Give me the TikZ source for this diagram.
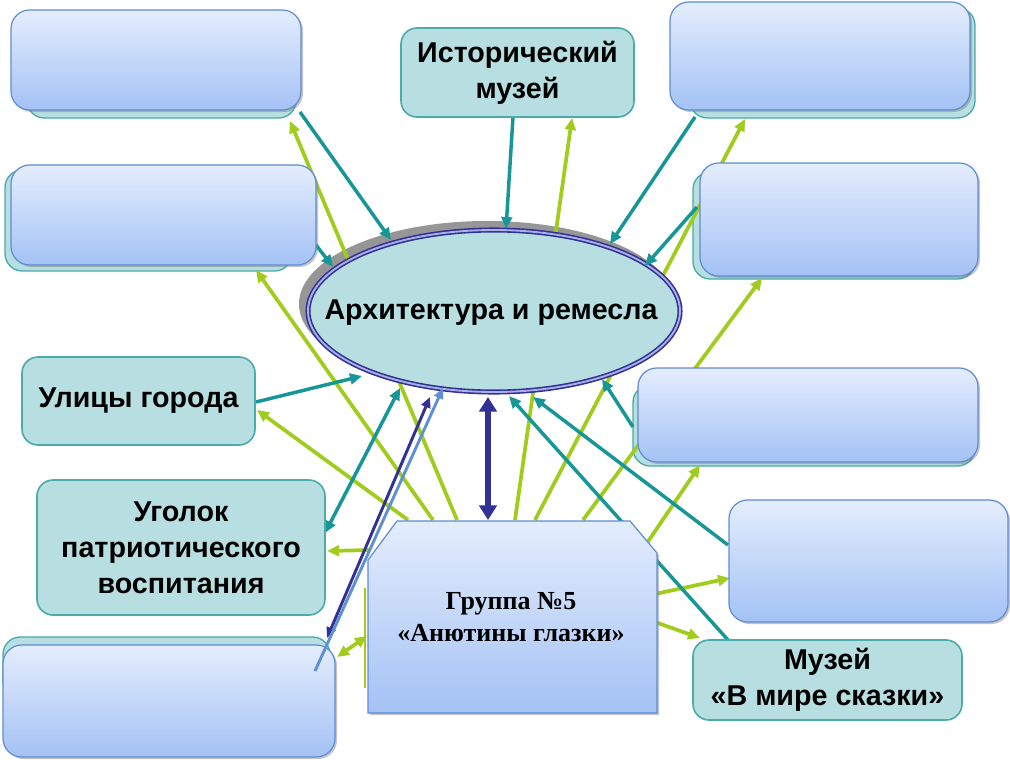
\documentclass[tikz,border=0pt]{standalone}
\usepackage{fontspec}
\setmainfont{Liberation Serif}
\newfontfamily\arialf{Liberation Sans}
\usetikzlibrary{shapes.geometric,arrows.meta,shadows}

\definecolor{tealline}{RGB}{22,150,150}
\definecolor{limeline}{RGB}{160,204,30}
\definecolor{tealfill}{RGB}{183,222,224}
\definecolor{tealdraw}{RGB}{75,170,170}
\definecolor{bluetop}{RGB}{228,237,253}
\definecolor{bluebot}{RGB}{164,194,245}
\definecolor{bluedraw}{RGB}{95,140,210}
\definecolor{navyline}{RGB}{50,50,150}
\definecolor{steelline}{RGB}{95,145,210}
\definecolor{shadowgray}{RGB}{150,150,150}
\definecolor{ellmid}{RGB}{170,175,230}

\tikzset{
  bluebox/.style={draw=bluedraw, line width=0.9pt, rounded corners=14pt, top color=bluetop, bottom color=bluebot,
    inner sep=0pt, outer sep=0pt,
    drop shadow={shadow xshift=1.5pt, shadow yshift=-1.5pt, opacity=0.45}},
  backbox/.style={draw=tealdraw, line width=1pt, rounded corners=13pt, fill=tealfill, inner sep=0pt, outer sep=0pt},
  tealbox/.style={draw=tealdraw, line width=1.2pt, rounded corners=12pt, fill=tealfill, inner sep=0pt, outer sep=0pt,
    font=\arialf\bfseries\fontsize{21.5}{27}\selectfont, align=center, text=black},
  tarrow/.style={draw=tealline, line width=2.6pt, -{Triangle[length=9pt,width=8pt]}},
  tdarrow/.style={draw=tealline, line width=2.6pt, {Triangle[length=9pt,width=8pt]}-{Triangle[length=9pt,width=8pt]}},
  larrow/.style={draw=limeline, line width=2.8pt, -{Triangle[length=9pt,width=8pt]}},
  ldarrow/.style={draw=limeline, line width=2.8pt, {Triangle[length=9pt,width=8pt]}-{Triangle[length=9pt,width=8pt]}},
  groupbox/.style={draw=bluedraw, line width=0.9pt, top color=bluetop, bottom color=bluebot,
    drop shadow={shadow xshift=1.5pt, shadow yshift=-1.5pt, opacity=0.45}},
}

\begin{document}
\begin{tikzpicture}[x=0.75pt,y=-0.75pt]
\useasboundingbox[fill=white] (0,0) rectangle (1010,760);

% back teal boxes (partly hidden)
\node[backbox, minimum width=201.75pt, minimum height=76.5pt] (TLt) at (161.5,67) {};
\node[backbox, minimum width=215.25pt, minimum height=75.75pt] (B2t) at (148.5,220.5) {};
\node[backbox, minimum width=213.75pt, minimum height=82.5pt] (TRt) at (832.5,63) {};
\node[backbox, minimum width=211.5pt, minimum height=80.25pt] (B5t) at (834,225.5) {};
\node[backbox, minimum width=256.5pt, minimum height=60.75pt] (RMt) at (804,425.5) {};
\node[backbox, minimum width=245.25pt, minimum height=46.5pt] (BLt) at (166.5,668) {};

% ellipse shadow
\node[ellipse, fill=shadowgray, minimum width=282pt, minimum height=124.5pt, inner sep=0pt] (Esh) at (487,304) {};

% connector end points
\coordinate (l1a) at (457,520); \coordinate (l1b) at (290,121);
\coordinate (l2a) at (433,520); \coordinate (l2b) at (256,270);
\coordinate (l3a) at (515,520); \coordinate (l3b) at (572,118);
\coordinate (l4a) at (535,520); \coordinate (l4b) at (745,119);
\coordinate (l5a) at (583,520); \coordinate (l5b) at (762,278);
\coordinate (l6a) at (647,543); \coordinate (l6b) at (700,465);
\coordinate (l7a) at (655,594); \coordinate (l7b) at (730,578);
\coordinate (l8a) at (655,622); \coordinate (l8b) at (700,638);
\coordinate (l9a) at (408,520); \coordinate (l9b) at (257,410);
\coordinate (l10a) at (370,550); \coordinate (l10b) at (327,551);
\coordinate (l11a) at (337,657); \coordinate (l11b) at (367,636);
\coordinate (l12a) at (365,588); \coordinate (l12b) at (365,688);

% lime connectors
\draw[larrow] (l1a) -- (l1b);
\draw[larrow] (l2a) -- (l2b);
\draw[larrow] (l3a) -- (l3b);
\draw[larrow] (l4a) -- (l4b);
\draw[larrow] (l5a) -- (l5b);
\draw[larrow] (l6a) -- (l6b);
\draw[larrow] (l7a) -- (l7b);
\draw[larrow] (l8a) -- (l8b);
\draw[larrow] (l9a) -- (l9b);
\draw[larrow] (l10a) -- (l10b);
\draw[ldarrow] (l11a) -- (l11b);
\draw[draw=limeline, line width=2pt] (l12a) -- (l12b);

% central ellipse
\node[ellipse, fill=tealfill, draw=navyline, line width=1.2pt, double=ellmid, double distance=1.4pt,
  minimum width=279pt, minimum height=121.5pt, inner sep=0pt] (E) at (494,311) {};
\node[font=\arialf\bfseries\fontsize{21.5}{24}\selectfont, inner sep=0pt] (Et) at (491,313) {Архитектура и ремесла};

% teal connectors
\coordinate (t1a) at (300,112); \coordinate (t1b) at (391,240);
\coordinate (t2a) at (316,245); \coordinate (t2b) at (333,267);
\coordinate (t3a) at (513,117); \coordinate (t3b) at (506,229);
\coordinate (t4a) at (695,117); \coordinate (t4b) at (610,244);
\coordinate (t5a) at (697,207); \coordinate (t5b) at (645,266);
\coordinate (t6a) at (256,402); \coordinate (t6b) at (362,376);
\coordinate (t7a) at (325,533); \coordinate (t7b) at (400,388);
\coordinate (t8a) at (633,427); \coordinate (t8b) at (602,379);
\coordinate (t9a) at (728,545); \coordinate (t9b) at (533,397);
\coordinate (t10a) at (728,640); \coordinate (t10b) at (509,396);
\draw[tarrow] (t1a) -- (t1b);
\draw[tarrow] (t2a) -- (t2b);
\draw[tarrow] (t3a) -- (t3b);
\draw[tarrow] (t4a) -- (t4b);
\draw[tarrow] (t5a) -- (t5b);
\draw[tarrow] (t6a) -- (t6b);
\draw[tdarrow] (t7a) -- (t7b);
\draw[tarrow] (t8a) -- (t8b);
\draw[tarrow] (t9a) -- (t9b);
\draw[tarrow] (t10a) -- (t10b);

% front blue boxes
\node[bluebox, minimum width=217.5pt, minimum height=75pt] (TLb) at (156,60) {};
\node[bluebox, minimum width=228.75pt, minimum height=75pt] (B2b) at (163.5,215) {};
\node[bluebox, minimum width=225pt, minimum height=81pt] (TRb) at (820,56) {};
\node[bluebox, minimum width=208.5pt, minimum height=84.75pt] (B5b) at (839,219.5) {};
\node[bluebox, minimum width=255pt, minimum height=70.5pt] (RMb) at (808,415) {};
\node[bluebox, minimum width=209.25pt, minimum height=91.5pt] (RLb) at (868.5,561) {};
\node[bluebox, minimum width=249pt, minimum height=84pt] (BLb) at (169,701) {};

% teal text boxes
\node[tealbox, minimum width=174.75pt, minimum height=66.75pt] (IM) at (517.5,72.5) {Исторический\\музей};
\node[tealbox, minimum width=174.75pt, minimum height=66pt] (UG) at (138.5,401) {Улицы города};
\node[tealbox, minimum width=216pt, minimum height=101.25pt] (UP) at (181,547.5) {Уголок\\патриотического\\воспитания};
\node[tealbox, minimum width=201.75pt, minimum height=60pt] (MZ) at (827.5,680) {Музей\\«В мире сказки»};

% group box
\path[groupbox] (368,560) -- (397,521) -- (630,521) -- (657,553) -- (657,713) -- (368,713) -- cycle;
\node[font=\bfseries\fontsize{19.5}{23.5}\selectfont, align=center, inner sep=0pt] (G) at (511,617) {Группа №5\\«Анютины глазки»};

% navy connectors
\coordinate (n1a) at (488,397); \coordinate (n1b) at (488,520);
\coordinate (n2a) at (327,638); \coordinate (n2b) at (430,397);
\coordinate (n3a) at (315,671); \coordinate (n3b) at (443,388);
\draw[draw=navyline, line width=4.5pt, {Triangle[length=11pt,width=13pt]}-{Triangle[length=11pt,width=13pt]}] (n1a) -- (n1b);
\draw[draw=navyline, line width=2.2pt, {Triangle[length=8pt,width=7pt]}-{Triangle[length=8pt,width=7pt]}] (n2a) -- (n2b);
\draw[draw=steelline, line width=2.2pt, -{Triangle[length=8pt,width=7pt]}] (n3a) -- (n3b);
\end{tikzpicture}
\end{document}
